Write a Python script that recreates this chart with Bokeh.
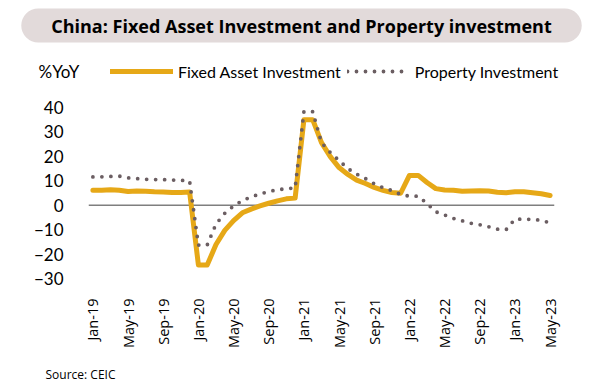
import math
from bokeh.plotting import figure
from bokeh.layouts import column
from bokeh.models import FixedTicker, Span, Label, Legend, LegendItem, Range1d
from bokeh.embed import file_html
from bokeh.resources import INLINE

# ---- data (YTD % YoY, Jan shown equal to Jan-Feb) ----
fai = [6.1, 6.1, 6.3, 6.1, 5.6, 5.8, 5.7, 5.5, 5.4, 5.2, 5.2, 5.4,
       -24.5, -24.5, -16.1, -10.3, -6.3, -3.1, -1.6, -0.3, 0.8, 1.8, 2.6, 2.9,
       35.0, 35.0, 25.6, 19.9, 15.4, 12.6, 10.3, 8.9, 7.3, 6.1, 5.2, 4.9,
       12.2, 12.2, 9.3, 6.8, 6.2, 6.1, 5.7, 5.8, 5.9, 5.8, 5.3, 5.1,
       5.5, 5.5, 5.1, 4.7, 4.0]
prop = [11.6, 11.6, 11.8, 11.9, 11.2, 10.9, 10.6, 10.5, 10.5, 10.3, 10.2, 9.9,
        -16.3, -16.3, -7.7, -3.3, -0.3, 1.9, 3.4, 4.6, 5.6, 6.3, 6.8, 7.0,
        38.3, 38.3, 25.6, 21.6, 18.3, 15.0, 12.7, 10.9, 8.8, 7.2, 6.0, 4.4,
        3.7, 3.7, 0.7, -2.7, -4.0, -5.4, -6.4, -7.4, -8.0, -8.8, -9.8, -10.0,
        -5.7, -5.7, -5.8, -6.2, -7.2]
tick_labels = ["Jan-19", "May-19", "Sep-19", "Jan-20", "May-20", "Sep-20", "Jan-21",
               "May-21", "Sep-21", "Jan-22", "May-22", "Sep-22", "Jan-23", "May-23"]
y_ticks = [-30, -20, -10, 0, 10, 20, 30, 40]
months = list(range(len(fai)))
tick_pos = months[::4]

FAI_COLOR = "#E6A817"
PROP_COLOR = "#6B5E62"
W = 600


def bare(height):
    f = figure(width=W, height=height, output_backend="svg", toolbar_location=None,
               x_axis_type=None, y_axis_type=None, min_border=0,
               x_range=Range1d(0, 1), y_range=Range1d(0, 1))
    f.outline_line_color = None
    f.xgrid.visible = False
    f.ygrid.visible = False
    f.frame_align = False
    return f


# ---- header: title pill, unit label, legend ----
head = bare(88)
d1 = head.line(months, fai, line_color=FAI_COLOR, line_width=5, line_cap="round", visible=False)
d2 = head.line(months, prop, line_color=PROP_COLOR, line_width=3.8, line_dash="0 9",
               line_cap="round", visible=False)
head.add_layout(Label(x=301, y=63, x_units="screen", y_units="screen",
                      text="China: Fixed Asset Investment and Property investment",
                      text_align="center", text_baseline="middle",
                      text_font="Open Sans", text_font_style="bold", text_font_size="18px",
                      text_color="black",
                      background_fill_color="#E2DADA", border_radius=17,
                      padding=dict(left=30, right=30, top=5, bottom=5)))
head.add_layout(Label(x=38, y=17, x_units="screen", y_units="screen", text="%YoY",
                      text_baseline="middle", text_font="Lato", text_font_size="17px",
                      text_color="black"))
legend = Legend(items=[LegendItem(label="Fixed Asset Investment", renderers=[d1]),
                       LegendItem(label="Property Investment", renderers=[d2])],
                orientation="horizontal", location=(110, 7),
                glyph_width=63, glyph_height=20, label_height=20, label_standoff=5,
                spacing=6, padding=0, margin=0,
                background_fill_alpha=0, border_line_color=None,
                inactive_fill_alpha=0,
                label_text_font="Lato", label_text_font_size="16px", label_text_color="black")
head.add_layout(legend)

# ---- main chart ----
p = figure(width=W, height=273, output_backend="svg", toolbar_location=None,
           x_range=(-0.5, len(fai) - 0.5), y_range=(-30, 40),
           min_border_left=88, min_border_right=46, min_border_top=19, min_border_bottom=83)
p.outline_line_color = None
p.xgrid.visible = False
p.ygrid.visible = False
p.frame_align = False

p.add_layout(Span(location=0, dimension="width", line_color="#7f7f7f", line_width=1.5,
                  level="underlay"))
p.line(months, fai, line_color=FAI_COLOR, line_width=5, line_join="round", line_cap="round")
p.line(months, prop, line_color=PROP_COLOR, line_width=3.8, line_dash="0 9", line_cap="round")

xa = p.xaxis[0]
xa.ticker = FixedTicker(ticks=tick_pos)
xa.major_label_overrides = {t: l for t, l in zip(tick_pos, tick_labels)}
xa.major_label_orientation = math.pi / 2
xa.axis_line_color = None
xa.major_tick_line_color = None
xa.minor_tick_line_color = None
xa.major_label_standoff = 14
xa.major_label_text_font = "Open Sans"
xa.major_label_text_font_size = "14.5px"
xa.major_label_text_color = "black"

ya = p.yaxis[0]
ya.ticker = FixedTicker(ticks=y_ticks)
ya.axis_line_color = None
ya.major_tick_line_color = None
ya.minor_tick_line_color = None
ya.major_label_standoff = 19
ya.major_label_text_font = "Lato"
ya.major_label_text_font_size = "17px"
ya.major_label_text_color = "black"

# ---- footer: source ----
foot = bare(24)
foot.add_layout(Label(x=45, y=11, x_units="screen", y_units="screen", text="Source: CEIC",
                      text_baseline="middle", text_font="Open Sans", text_font_size="12px",
                      text_color="black"))

layout = column(head, p, foot, spacing=0)
open("out.html", "w").write(file_html(layout, INLINE))
